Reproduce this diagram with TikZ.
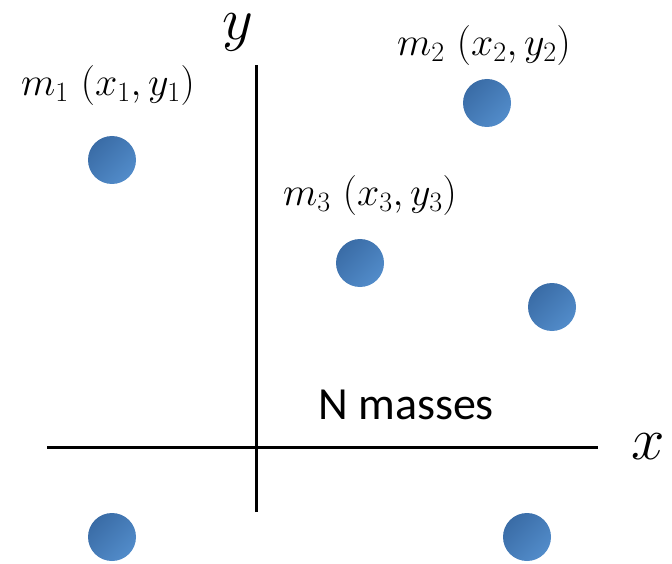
\RequirePackage{fix-cm}
\documentclass[tikz,border=0pt]{standalone}
\usepackage{fontspec}
\newfontfamily\labelfont{Carlito}
\usepackage{tikz}

\definecolor{massdark}{HTML}{3A6CA6}
\definecolor{masslight}{HTML}{528CCA}

\begin{document}
\begin{tikzpicture}[
  x=1pt, y=-1pt,
  axis/.style={line width=3pt, black},
  mass/.style={
    circle, inner sep=0pt, minimum size=48pt,
    top color=massdark, bottom color=masslight,
    shading angle=45
  },
  masslabel/.style={font=\fontsize{40}{48}\selectfont},
  axislabel/.style={inner sep=0pt, font=\fontsize{60}{70}\selectfont}
]

\useasboundingbox (0,0) rectangle (672,564);

% axes
\coordinate (ytop) at (256,65);
\coordinate (ybot) at (256,512);
\coordinate (xleft) at (47,447);
\coordinate (xright) at (598,447);
\draw[axis] (ybot) -- (ytop);
\draw[axis] (xleft) -- (xright);
\node[axislabel] (ylab) at (238,32) {$y$};
\node[axislabel] (xlab) at (648,447) {$x$};

% masses
\node[mass] (m1) at (112,160) {};
\node[mass] (m2) at (487,103) {};
\node[mass] (m3) at (360,263) {};
\node[mass] (m4) at (552,307) {};
\node[mass] (m5) at (112,537) {};
\node[mass] (m6) at (527,537) {};

\node[masslabel] (m1lab) at (108,86) {$m_1~(x_1,y_1)$};
\node[masslabel] (m2lab) at (484,46) {$m_2~(x_2,y_2)$};
\node[masslabel] (m3lab) at (370,196) {$m_3~(x_3,y_3)$};

\node[font=\labelfont\fontsize{46}{54}\selectfont] (nlab) at (406,405) {N masses};

\end{tikzpicture}
\end{document}
